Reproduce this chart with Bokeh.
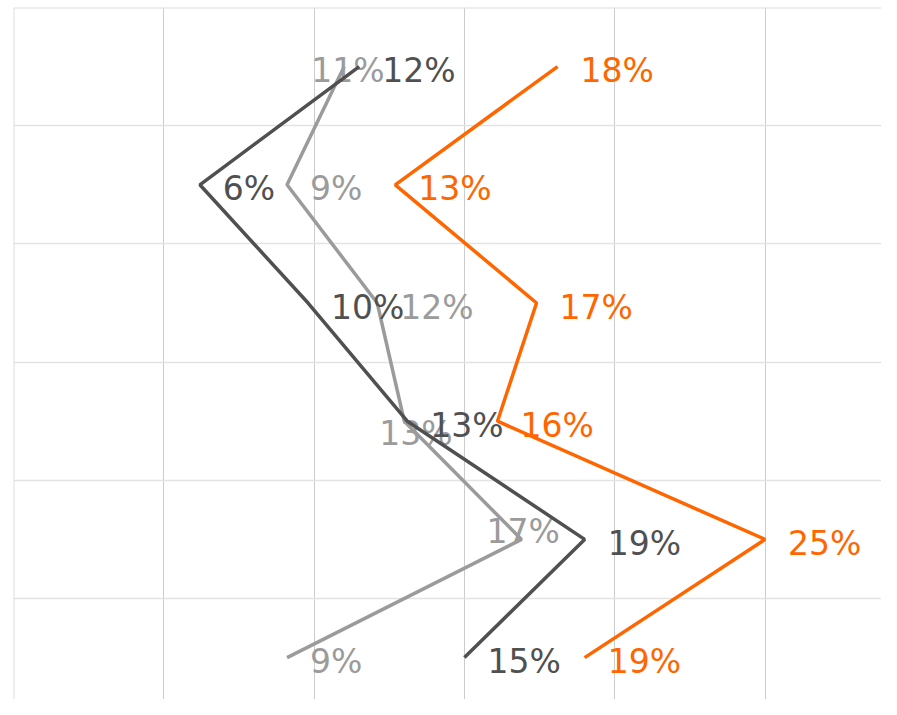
from bokeh.plotting import figure
from bokeh.models import ColumnDataSource, Range1d, FixedTicker, Span
from bokeh.core.properties import value
from bokeh.embed import file_html
from bokeh.resources import INLINE

# ---- data ----
categories = ["Row 1", "Row 2", "Row 3", "Row 4", "Row 5", "Row 6"]
series_names = ["Light", "Dark", "Orange"]
light_values = [11.0, 9.1, 12.1, 13.0, 16.9, 9.1]
dark_values = [11.5, 6.2, 9.8, 13.1, 19.0, 15.0]
orange_values = [18.1, 12.7, 17.4, 16.1, 25.0, 19.0]
x_ticks = [0, 5, 10, 15, 20, 25]

# ---- style ----
colors = {"Light": "#9b9b9b", "Dark": "#505050", "Orange": "#ff6600"}
# label offsets in screen pixels (dx, dy)
default_off = (23, 4)
special_off = {
    ("Light", 0): (-33, 4),
    ("Light", 3): (-25, 12),
    ("Light", 4): (-35, -8),
}

PX_PER_PCT = 30.06
BAND = 118.2
W, H = 881, 699
left_b, top_b = 13, 7
frame_w = W - left_b
frame_h = H - top_b

p = figure(width=W, height=H, output_backend="svg", toolbar_location=None,
           x_range=Range1d(0, frame_w / PX_PER_PCT),
           y_range=Range1d(-0.5 + frame_h / BAND, -0.5),
           min_border_left=left_b, min_border_top=top_b, min_border_right=0,
           min_border_bottom=0)
p.outline_line_color = None
p.background_fill_color = "white"
p.border_fill_color = "white"
p.xaxis.visible = False
p.yaxis.visible = False
p.xgrid.ticker = FixedTicker(ticks=x_ticks)
p.xgrid.grid_line_color = "#cccccc"
p.xgrid.grid_line_width = 1
p.ygrid.ticker = FixedTicker(ticks=[i + 0.5 for i in range(len(categories) - 1)])
p.ygrid.grid_line_color = "#e3e3e3"
p.ygrid.grid_line_width = 1.5

# top and left border
p.add_layout(Span(location=0, dimension="height", line_color="#dddddd", line_width=2))
p.add_layout(Span(location=-0.5, dimension="width", line_color="#dddddd", line_width=2))

ypos = list(range(len(categories)))
for name, vals in zip(series_names, [light_values, dark_values, orange_values]):
    col = colors[name]
    dx = [special_off.get((name, i), default_off)[0] for i in range(len(vals))]
    dy = [special_off.get((name, i), default_off)[1] for i in range(len(vals))]
    src = ColumnDataSource(dict(x=vals, y=ypos,
                                lab=[f"{round(v)}%" for v in vals], dx=dx, dy=dy))
    p.line("x", "y", source=src, line_color=col, line_width=3.5)
    p.text("x", "y", text="lab", source=src, x_offset="dx", y_offset="dy",
           text_color=col, text_font=value("'DejaVu Sans ExtraLight', 'DejaVu Sans'"),
           text_font_size="33px",
           text_baseline="middle", text_align="left")

open("out.html", "w").write(file_html(p, INLINE))
